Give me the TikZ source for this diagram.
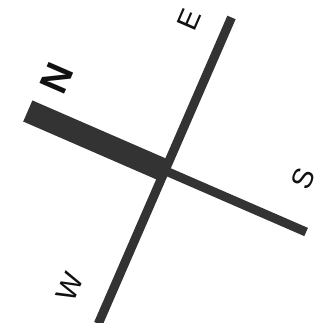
\documentclass[tikz,border=0pt]{standalone}
\usepackage{fontspec}
\setmainfont{Liberation Sans}
\usepackage{tikz}
\definecolor{needle}{HTML}{333333}
\definecolor{ink}{HTML}{111111}
\tikzset{
  arm/.style={fill=needle,draw=none},
  dir/.style={font=\fontsize{29}{29}\selectfont,text=ink,inner sep=0pt,transform shape},
  north/.style={dir,font=\bfseries\fontsize{39}{39}\selectfont},
}
\begin{document}
\begin{tikzpicture}[x=1pt,y=1pt]
  \useasboundingbox (0,0) rectangle (325,323);
  \coordinate (c) at (164.9,152.4);
  \begin{scope}[shift={(c)},rotate=66.5]
    \path[arm] (-167,-4.5) rectangle (167,4.5);
    \path[arm] (-4.5,-154) rectangle (4.5,0);
    \path[arm] (-11.5,0) rectangle (11.5,149.5);
    \node[north] (lblN) at (42,136)   {N};
    \node[dir]   (lblE) at (148,38)   {E};
    \node[dir]   (lblS) at (48,-130)  {S};
    \node[dir]   (lblW) at (-145,41)  {W};
  \end{scope}
\end{tikzpicture}
\end{document}
